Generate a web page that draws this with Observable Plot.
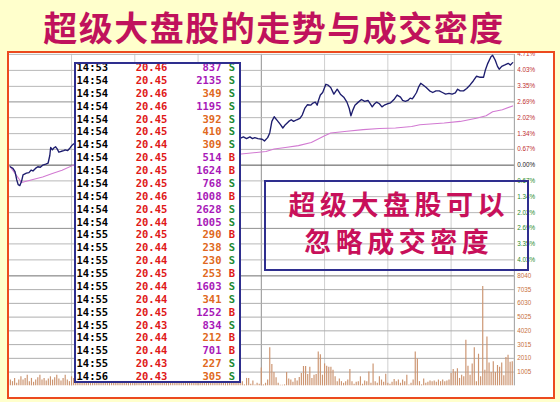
<!DOCTYPE html>
<html><head><meta charset="utf-8">
<script src="https://cdn.jsdelivr.net/npm/d3@7"></script>
<script src="https://cdn.jsdelivr.net/npm/@observablehq/plot@0.6"></script>
<style>
html,body{margin:0;padding:0;background:#ffffcc;}
#root{position:relative;width:560px;height:402px;overflow:hidden;background:#ffffcc;font-family:"Noto Sans CJK SC",sans-serif;}
#title{position:absolute;left:0;top:4px;width:548px;text-align:center;font-size:34px;font-weight:bold;color:#c0125c;line-height:46px;letter-spacing:1.5px;white-space:nowrap;}
#inner{position:absolute;left:9px;top:53px;width:544px;height:344px;overflow:hidden;background:#fff;}
#inner svg{position:absolute;left:-9px;top:-53px;}
#frame{position:absolute;left:7px;top:51px;width:548px;height:348px;box-sizing:border-box;border:2.5px solid #ec4a1e;}
#table{position:absolute;left:74px;top:62px;width:167px;height:321px;box-sizing:border-box;border:2px solid #2e2e8e;background:#fff;overflow:hidden;}
#table svg{display:block;}
#note{position:absolute;left:264px;top:180px;width:265px;height:91px;box-sizing:border-box;border:2.5px solid #2e2e8e;}
#note div{position:absolute;left:0;width:100%;text-align:center;font-size:27px;font-weight:bold;line-height:36px;letter-spacing:4.5px;padding-left:4.5px;box-sizing:border-box;color:#c8105a;white-space:nowrap;}
</style></head>
<body>
<div id="root">
  <div id="title">超级大盘股的走势与成交密度</div>
  <div id="inner"></div>
  <div id="table"></div>
  <div id="note"><div style="top:4px">超级大盘股可以</div><div style="top:41px">忽略成交密度</div></div>
  <div id="frame"></div>
</div>
<script>
// ---- price line (minute of session, % change) ----
const priceMin = [0.9,2.2,3.2,4.0,4.7,5.5,6.3,7.0,8.6,9.8,10.9,11.7,12.9,14.0,15.2,16.3,17.8,18.9,19.7,20.1,20.9,21.6,22.4,23.2,24.0,25.2,26.3,27.0,28.2,29.3,30.1,30.9,
106.9,108.4,109.9,111.5,113.0,114.6,115.8,116.9,118.4,120.4,121.5,123.0,124.0,125.0,126.1,127.6,129.1,130.2,131.4,133.0,134.2,135.3,136.8,138.3,139.4,140.6,141.9,143.4,144.5,145.6,146.5,147.1,148.0,149.1,150.6,151.7,152.9,154.4,156.0,157.5,159.1,160.6,161.7,162.5,163.4,164.4,166.0,167.5,169.0,170.6,171.7,172.6,173.7,174.7,176.0,177.2,178.3,179.8,181.3,182.9,184.4,186.0,187.0,188.3,189.5,190.6,191.6,192.5,193.6,194.7,195.6,196.7,198.2,199.8,201.3,202.8,204.4,205.9,207.4,209.0,210.5,212.0,213.1,214.3,215.9,217.4,218.9,220.5,222.0,223.5,225.4,226.3,227.4,228.9,229.7,230.9,232.0,232.8,234.0,235.5,237.1,238.1,239.2];
const pricePct = [-0.07,-0.14,-0.28,-0.62,-0.83,-0.87,-0.69,-0.41,-0.34,-0.32,-0.21,-0.25,-0.14,-0.07,-0.09,0.00,0.04,0.09,0.41,0.75,0.65,0.73,0.78,0.69,0.55,0.59,0.62,0.65,0.62,0.73,0.83,0.90,
0.92,1.03,1.14,1.20,1.13,1.20,1.13,1.17,1.13,1.10,1.03,1.17,1.37,1.86,2.06,1.89,1.72,1.58,1.72,1.86,1.93,1.86,1.93,1.99,2.13,2.41,2.57,2.55,2.64,2.68,2.55,2.75,2.98,3.09,3.44,3.40,3.30,3.02,3.23,3.02,2.89,2.68,2.41,2.10,2.34,2.55,2.68,2.79,2.71,2.75,2.61,2.48,2.61,2.68,2.61,2.48,2.55,2.61,2.65,2.79,2.98,2.89,2.75,2.71,2.75,2.85,2.82,2.93,3.09,3.34,3.48,3.41,3.30,3.16,3.09,3.16,3.16,3.09,3.02,3.05,3.02,3.07,3.23,3.16,3.16,3.26,3.40,3.58,3.78,3.74,3.74,4.06,4.33,4.61,4.67,4.47,4.20,4.08,4.20,4.26,4.33,4.26,4.36];

// ---- average price line ----
const avgMin = [0.9,3.2,6.3,11.7,16.3,20.9,25.5,30.9,106.9,122.2,126.1,131.4,137.6,143.7,149.8,152.9,160.6,168.3,176.0,183.6,191.3,195.2,206.7,214.3,222.0,226.6,229.7,234.3,239.2];
const avgPct = [-0.07,-0.35,-0.74,-0.61,-0.50,-0.36,-0.22,0.0,0.44,0.58,0.69,0.75,0.83,0.96,1.24,1.37,1.44,1.51,1.56,1.58,1.64,1.72,1.79,1.86,1.99,2.10,2.27,2.36,2.52];

// ---- per-minute volume (index = minute 0..239) ----
const volume = [543,
425,307,543,189,425,661,425,543,779,307,543,260,425,590,779,425,543,354,496,661,425,590,779,496,354,543,779,425,307,
661,543,779,425,661,307,543,354,496,260,425,307,543,425,354,826,543,425,590,425,661,496,590,425,661,496,425,543,779,590,
897,543,661,496,661,779,897,543,425,590,307,425,779,425,189,307,189,260,307,354,189,260,307,189,260,354,260,307,189,307,354,
425,307,543,661,543,425,307,425,260,354,425,307,354,260,425,307,
300,
354,260,708,307,71,543,543,118,354,71,189,118,1298,71,189,425,2785,1558,968,590,189,50,50,71,968,496,425,260,543,354,
614,897,1416,1416,826,1369,543,779,826,2478,2266,779,1605,1440,1369,1369,1133,661,307,496,307,189,307,425,1204,307,118,260,307,661,
118,354,307,1015,189,1605,
307,189,661,425,260,850,189,118,260,472,307,425,189,425,307,779,71,189,425,
2478,1959,307,71,496,189,260,354,307,354,260,425,307,425,307,354,425,897,1204,1015,
1251,543,779,661,3328,1440,779,1605,2785,307,2313,661,7269,1133,3564,1676,968,1770,968,1487,
1369,1676,732,2077,2242,1723,1770];

// ---- axis ticks ----
const pctTicks = [4.71,4.03,3.35,2.69,2.02,1.34,0.67,0,-0.67,-1.34,-2.02,-2.69,-3.35,-4.03];
const pctLabels = ["4.71%","4.03%","3.35%","2.69%","2.02%","1.34%","0.67%","0.00%","0.67%","1.34%","2.02%","2.69%","3.35%","4.03%"];
const volTicks = [8040,7035,6030,5025,4020,3015,2010,1005];
const volLabels = ["8040","7035","6030","5025","4020","3015","2010","1005"];
const timeGrid = [30,60,90,120,150,180,210,240];

// ---- tick-by-tick table ----
const times = ["14:53","14:54","14:54","14:54","14:54","14:54","14:54","14:54","14:54","14:54","14:54","14:54","14:54",
"14:55","14:55","14:55","14:55","14:55","14:55","14:55","14:55","14:55","14:55","14:55","14:56"];
const prices = ["20.46","20.45","20.46","20.46","20.45","20.45","20.44","20.45","20.45","20.45","20.46","20.45","20.44",
"20.45","20.44","20.44","20.45","20.44","20.44","20.45","20.43","20.44","20.44","20.43","20.43"];
const vols = [837,2135,349,1195,392,410,309,514,1624,768,1008,2628,1005,
290,238,230,253,1603,341,1252,834,212,701,227,305];
const sides = ["S","S","S","S","S","S","S","B","B","S","B","S","S",
"B","S","S","B","S","S","B","S","B","B","S","S"];

const axisFont = "'Liberation Sans Narrow','Arial Narrow','Liberation Sans',sans-serif";

function vGridMarks() {
  return [
    Plot.ruleX(timeGrid.filter(m => m !== 120 && m !== 240), {stroke: "#cdcdcd"}),
    Plot.ruleX([120], {stroke: "#8c8c8c"}),
    Plot.ruleX([240], {stroke: "#9a9a9a"})
  ];
}

const tickIdx = d3.range(pctTicks.length);
const pIdx = d3.range(priceMin.length);
const aIdx = d3.range(avgMin.length);

const pricePlot = Plot.plot({
  width: 560, height: 402,
  marginLeft: 8, marginRight: 31, marginTop: 55.5, marginBottom: 118.5,
  x: {domain: [0, 240], axis: null},
  y: {domain: [-4.71, 4.71], axis: null},
  style: {background: "transparent", overflow: "visible"},
  marks: [
    ...vGridMarks(),
    Plot.ruleY(pctTicks.filter(v => v !== 0 && Math.abs(v) !== 2.69), {stroke: "#b6b6b6"}),
    Plot.ruleY(pctTicks.filter(v => Math.abs(v) === 2.69), {stroke: "#8c8c8c"}),
    Plot.ruleY([0], {stroke: "#4a4a4a"}),
    Plot.line(aIdx, {x: i => avgMin[i], y: i => avgPct[i], stroke: "#d27ad2", strokeWidth: 1.1}),
    Plot.line(pIdx, {x: i => priceMin[i], y: i => pricePct[i], stroke: "#1d1d6e", strokeWidth: 1.4}),
    Plot.text(tickIdx.filter(i => pctTicks[i] > 0), {y: i => pctTicks[i], text: i => pctLabels[i], frameAnchor: "right", dx: 3, textAnchor: "start", fill: "#c03030", fontSize: 6.5, fontFamily: axisFont}),
    Plot.text(tickIdx.filter(i => pctTicks[i] === 0), {y: i => pctTicks[i], text: i => pctLabels[i], frameAnchor: "right", dx: 3, textAnchor: "start", fill: "#222", fontSize: 6.5, fontFamily: axisFont}),
    Plot.text(tickIdx.filter(i => pctTicks[i] < 0), {y: i => pctTicks[i], text: i => pctLabels[i], frameAnchor: "right", dx: 3, textAnchor: "start", fill: "#2a8a2a", fontSize: 6.5, fontFamily: axisFont})
  ]
});

const vIdx = d3.range(volTicks.length);
const volPlot = Plot.plot({
  width: 560, height: 402,
  marginLeft: 8, marginRight: 31, marginTop: 283.5, marginBottom: 5.3,
  x: {domain: [0, 240], axis: null},
  y: {domain: [0, 8040], axis: null},
  style: {background: "transparent", overflow: "visible"},
  marks: [
    ...vGridMarks(),
    Plot.ruleY(volTicks.filter(v => v !== 8040), {stroke: "#ababab"}),
    Plot.ruleY([8040], {stroke: "#6a6a6a"}),
    Plot.ruleX(volume, {x: (d, i) => i, y1: 0, y2: d => d, stroke: "#cc9470", strokeWidth: 1.2}),
    Plot.text(vIdx, {y: i => volTicks[i], text: i => volLabels[i], frameAnchor: "right", dx: 3, textAnchor: "start", fill: "#c8703c", fontSize: 6.5, fontFamily: axisFont})
  ]
});

const inner = document.getElementById("inner");
inner.appendChild(pricePlot);
inner.appendChild(volPlot);

// ---- table ----
const rows = times.map((t, i) => ({i, time: t, price: prices[i], vol: vols[i], volText: String(vols[i]), side: sides[i]}));
const groups = d3.groups(rows, d => d.time).filter(([, g]) => g.length > 1).map(([t, g]) => ({t, y1: g[0].i, y2: g[g.length - 1].i}));
const tf = {fontFamily: "'DejaVu Sans Mono',monospace", fontSize: 10.5, fontWeight: "bold", frameAnchor: "left"};
const tablePlot = Plot.plot({
  width: 163, height: 317, margin: 0,
  y: {domain: [0, 24], range: [3.2, 312.2], axis: null},
  style: {background: "transparent"},
  marks: [
    Plot.ruleX(groups, {y1: "y1", y2: "y2", dx: -40.8, stroke: "#2e2e8e", strokeWidth: 2}),
    Plot.text(rows, {...tf, y: "i", text: "time", dx: 0, textAnchor: "start", fill: "#000"}),
    Plot.text(rows, {...tf, y: "i", text: "price", dx: 75, textAnchor: "middle", fill: "#e01818"}),
    Plot.text(rows.filter(d => d.vol >= 500), {...tf, y: "i", text: "volText", dx: 145, textAnchor: "end", fill: "#a818b8"}),
    Plot.text(rows.filter(d => d.vol < 500), {...tf, y: "i", text: "volText", dx: 145, textAnchor: "end", fill: "#e06820"}),
    Plot.text(rows.filter(d => d.side === "S"), {...tf, y: "i", text: "side", dx: 155.5, textAnchor: "middle", fill: "#208830"}),
    Plot.text(rows.filter(d => d.side === "B"), {...tf, y: "i", text: "side", dx: 155.5, textAnchor: "middle", fill: "#e01818"})
  ]
});
document.getElementById("table").appendChild(tablePlot);
</script>
</body></html>
